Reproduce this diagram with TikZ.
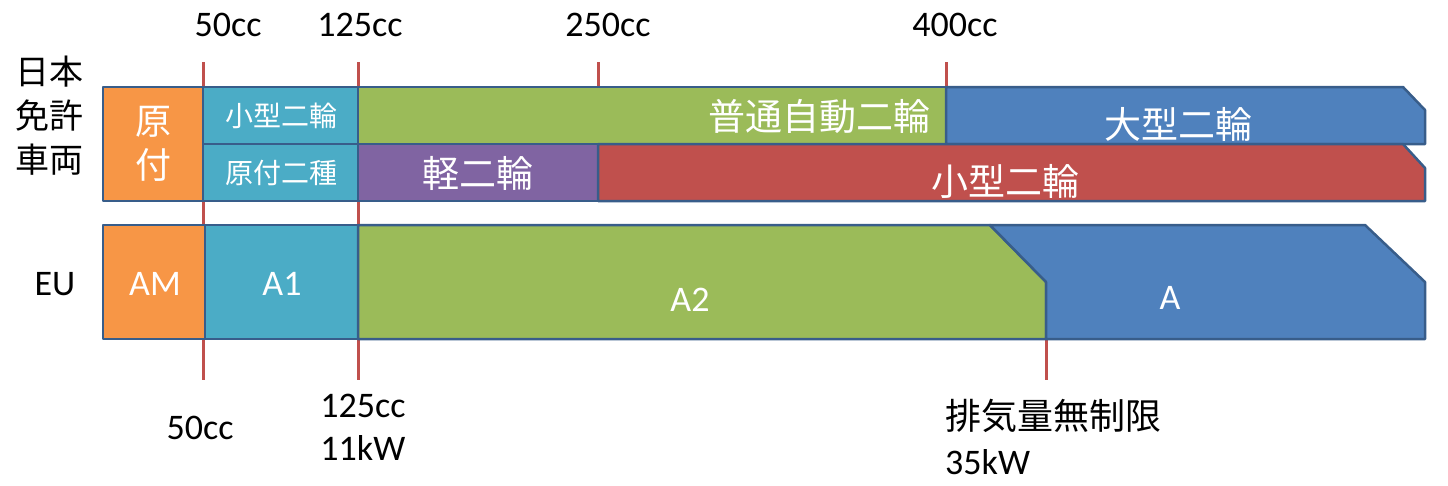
\documentclass[tikz,border=0pt]{standalone}
\usepackage{fontspec}
\setmainfont{Carlito}
\newfontfamily\cjk{Noto Sans CJK JP}
\definecolor{cor}{HTML}{F79646}
\definecolor{cbl}{HTML}{4BACC6}
\definecolor{cgr}{HTML}{9BBB59}
\definecolor{cdb}{HTML}{4F81BD}
\definecolor{cpu}{HTML}{8064A2}
\definecolor{cre}{HTML}{C0504D}
\definecolor{cln}{HTML}{385D8A}
\begin{document}
\begin{tikzpicture}[x=1pt,y=-1pt,
  seg/.style={draw=cln,line width=2.5pt,line join=round},
  wt/.style={text=white,font=\cjk},
  tick/.style={draw=cre,line width=3pt},
  lab/.style={font=\fontsize{36}{43}\selectfont,inner sep=0pt}]
\useasboundingbox (0,0) rectangle (1448,485);
\draw[tick] (203,62) -- (203,380);
\draw[tick] (358,62) -- (358,380);
\draw[tick] (598,62) -- (598,90);
\draw[tick] (946,62) -- (946,90);
\draw[tick] (1046,335) -- (1046,380);
% Japan
\path[seg,fill=cor] (103,87) rectangle (203,201);
\path[seg,fill=cbl] (203,87) rectangle (358,144);
\path[seg,fill=cbl] (203,144) rectangle (358,201);
\path[seg,fill=cgr] (358,87) rectangle (946,144);
\path[seg,fill=cdb] (946,87) -- (1403,87) -- (1425,110) -- (1425,144) -- (946,144) -- cycle;
\path[seg,fill=cpu] (358,144) rectangle (598,201);
\path[seg,fill=cre] (598,144) -- (1403,144) -- (1425,168) -- (1425,201) -- (598,201) -- cycle;
% EU
\path[seg,fill=cor] (103,225) rectangle (205,339);
\path[seg,fill=cbl] (205,225) rectangle (358,339);
\path[seg,fill=cgr] (358,225) -- (990,225) -- (1046,282) -- (1046,339) -- (358,339) -- cycle;
\path[seg,fill=cdb] (990,225) -- (1365,225) -- (1425,282) -- (1425,339) -- (1046,339) -- (1046,282) -- cycle;
% box texts
\node[wt,font=\cjk\fontsize{36}{44}\selectfont,align=center] (gz) at (153,144) {原\\付};
\node[wt,font=\cjk\fontsize{28}{30}\selectfont] (kg1) at (281,116) {小型二輪};
\node[wt,font=\cjk\fontsize{28}{30}\selectfont] (gn2) at (281,173) {原付二種};
\node[wt,font=\cjk\fontsize{37}{40}\selectfont,anchor=east] (fu) at (934,116) {普通自動二輪};
\node[wt,font=\cjk\fontsize{37}{40}\selectfont] (og) at (1178,124) {大型二輪};
\node[wt,font=\cjk\fontsize{37}{40}\selectfont] (kn) at (478,173) {軽二輪};
\node[wt,font=\cjk\fontsize{37}{40}\selectfont] (kg2) at (1005,181) {小型二輪};
\node[text=white,lab] (am) at (155,284) {AM};
\node[text=white,lab] (a1) at (282,284) {A1};
\node[text=white,lab] (a2) at (690,300) {A2};
\node[text=white,lab] (a) at (1170,298) {A};
% labels
\node[lab] (t50) at (228,25) {50cc};
\node[lab] (t125) at (360,25) {125cc};
\node[lab] (t250) at (608,25) {250cc};
\node[lab] (t400) at (955,25) {400cc};
\node[lab] (b50) at (200,428) {50cc};
\node[lab,align=left] (b125) at (363,427) {125cc\\11kW};
\node[font=\cjk\fontsize{36}{40}\selectfont,anchor=west,inner sep=0pt] (bm) at (945,416) {排気量無制限};
\node[lab,anchor=west] (b35) at (945,462) {35kW};
\node[font=\cjk\fontsize{34}{44}\selectfont,align=center] (jp) at (50,116) {日本\\免許\\車両};
\node[lab] (eu) at (55,284) {EU};
\end{tikzpicture}
\end{document}
